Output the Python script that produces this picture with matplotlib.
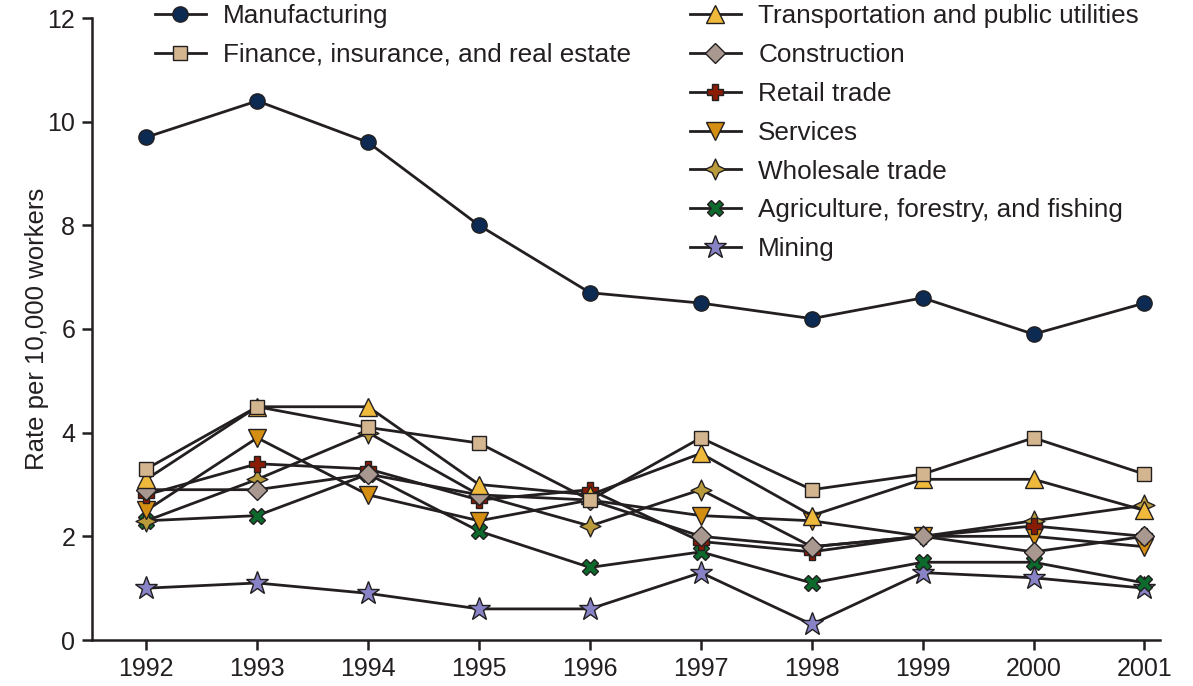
import matplotlib.pyplot as plt
from matplotlib.path import Path

plt.rcParams['font.family'] = ['Liberation Sans', 'DejaVu Sans']

years = [1992, 1993, 1994, 1995, 1996, 1997, 1998, 1999, 2000, 2001]

manufacturing = [9.7, 10.4, 9.6, 8.0, 6.7, 6.5, 6.2, 6.6, 5.9, 6.5]
finance = [3.3, 4.5, 4.1, 3.8, 2.7, 3.9, 2.9, 3.2, 3.9, 3.2]
transportation = [3.1, 4.5, 4.5, 3.0, 2.8, 3.6, 2.4, 3.1, 3.1, 2.5]
construction = [2.9, 2.9, 3.2, 2.8, 2.7, 2.0, 1.8, 2.0, 1.7, 2.0]
retail = [2.8, 3.4, 3.3, 2.7, 2.9, 1.9, 1.7, 2.0, 2.2, 2.0]
services = [2.5, 3.9, 2.8, 2.3, 2.7, 2.4, 2.3, 2.0, 2.0, 1.8]
wholesale = [2.3, 3.1, 4.0, 2.8, 2.2, 2.9, 1.8, 2.0, 2.3, 2.6]
agriculture = [2.3, 2.4, 3.2, 2.1, 1.4, 1.7, 1.1, 1.5, 1.5, 1.1]
mining = [1.0, 1.1, 0.9, 0.6, 0.6, 1.3, 0.3, 1.3, 1.2, 1.0]

# four-pointed star with concave sides
k = 0.32
star4 = Path([(0, 1), (k, k), (1, 0), (k, -k), (0, -1), (-k, -k), (-1, 0), (-k, k), (0, 1)],
             [Path.MOVETO] + [Path.LINETO] * 7 + [Path.CLOSEPOLY])

series = [
    ("Manufacturing", manufacturing, "o", 11, "#0c2a52"),
    ("Finance, insurance, and real estate", finance, "s", 10.5, "#d3b68f"),
    ("Transportation and public utilities", transportation, "^", 13, "#efb93c"),
    ("Construction", construction, "D", 10, "#a89890"),
    ("Retail trade", retail, "P", 12, "#8a1c05"),
    ("Services", services, "v", 13, "#d48f12"),
    ("Wholesale trade", wholesale, star4, 15, "#b99b3c"),
    ("Agriculture, forestry, and fishing", agriculture, "X", 12, "#0b6a2c"),
    ("Mining", mining, "*", 17, "#8883c6"),
]

dark = "#231f20"

fig = plt.figure(figsize=(11.93, 6.86), dpi=100)
ax = fig.add_axes([92 / 1193, 46 / 686, 1068 / 1193, 622 / 686])

# later legend entries go underneath earlier ones
handles = {}
for i, (name, vals, mk, ms, col) in enumerate(reversed(series)):
    line, = ax.plot(years, vals, color=dark, lw=2.0, marker=mk, markersize=ms,
                    markerfacecolor=col, markeredgecolor=dark, markeredgewidth=1.0,
                    label=name, zorder=2 + i, clip_on=False)
    handles[name] = line

ax.set_xlim(1991.51, 2001.14)
ax.set_ylim(0, 12)
ax.set_xticks(years)
ax.set_yticks([0, 2, 4, 6, 8, 10, 12])
ax.spines['top'].set_visible(False)
ax.spines['right'].set_visible(False)
for side in ('left', 'bottom'):
    ax.spines[side].set_linewidth(1.8)
    ax.spines[side].set_color(dark)
ax.tick_params(axis='both', direction='out', length=7, width=1.8, color=dark,
               labelsize=18, labelcolor=dark, pad=5)
ax.set_ylabel("Rate per 10,000 workers", fontsize=18.5, color=dark, labelpad=-1)

names = [s[0] for s in series]
leg_kw = dict(frameon=False, fontsize=18.8, handlelength=1.95, handletextpad=0.66,
              labelspacing=0.57, borderpad=0, borderaxespad=0, loc='upper left',
              bbox_transform=fig.transFigure, labelcolor=dark)
fig.legend([handles[n] for n in names[:2]], names[:2],
           bbox_to_anchor=(155 / 1193, 1 - 4 / 686), **leg_kw)
fig.legend([handles[n] for n in names[2:]], names[2:],
           bbox_to_anchor=(690 / 1193, 1 - 4 / 686), **leg_kw)

fig.savefig("out.png", dpi=100)
